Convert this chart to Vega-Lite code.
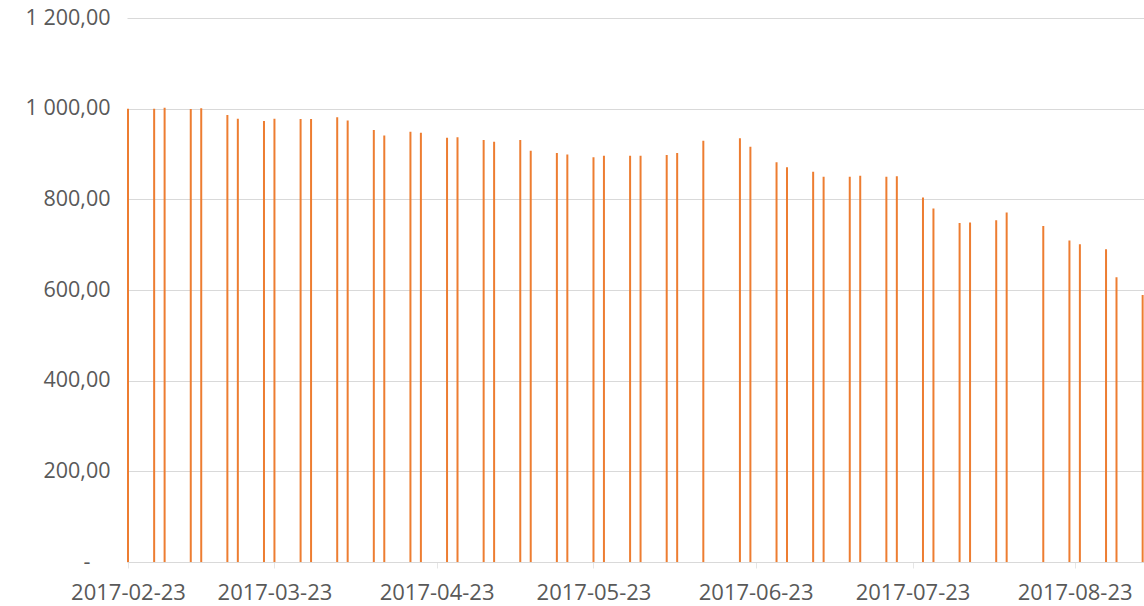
{
  "$schema": "https://vega.github.io/schema/vega-lite/v6.json",
  "autosize": "none",
  "width": 1017,
  "height": 544,
  "padding": {"left": 127, "top": 18, "right": 0, "bottom": 44},
  "background": "white",
  "config": {"view": {"stroke": null}},
  "data": {
    "values": [
      {"date": "2017-02-23", "value": 1000},
      {"date": "2017-02-28", "value": 1000},
      {"date": "2017-03-02", "value": 1002},
      {"date": "2017-03-07", "value": 999},
      {"date": "2017-03-09", "value": 1001},
      {"date": "2017-03-14", "value": 986},
      {"date": "2017-03-16", "value": 978},
      {"date": "2017-03-21", "value": 973},
      {"date": "2017-03-23", "value": 978},
      {"date": "2017-03-28", "value": 977},
      {"date": "2017-03-30", "value": 977},
      {"date": "2017-04-04", "value": 981},
      {"date": "2017-04-06", "value": 974},
      {"date": "2017-04-11", "value": 953},
      {"date": "2017-04-13", "value": 941},
      {"date": "2017-04-18", "value": 949},
      {"date": "2017-04-20", "value": 947},
      {"date": "2017-04-25", "value": 936},
      {"date": "2017-04-27", "value": 937},
      {"date": "2017-05-02", "value": 931},
      {"date": "2017-05-04", "value": 927},
      {"date": "2017-05-09", "value": 931},
      {"date": "2017-05-11", "value": 907},
      {"date": "2017-05-16", "value": 902},
      {"date": "2017-05-18", "value": 899},
      {"date": "2017-05-23", "value": 893},
      {"date": "2017-05-25", "value": 896},
      {"date": "2017-05-30", "value": 896},
      {"date": "2017-06-01", "value": 896},
      {"date": "2017-06-06", "value": 898},
      {"date": "2017-06-08", "value": 902},
      {"date": "2017-06-13", "value": 929},
      {"date": "2017-06-20", "value": 935},
      {"date": "2017-06-22", "value": 916},
      {"date": "2017-06-27", "value": 882},
      {"date": "2017-06-29", "value": 871},
      {"date": "2017-07-04", "value": 861},
      {"date": "2017-07-06", "value": 850},
      {"date": "2017-07-11", "value": 850},
      {"date": "2017-07-13", "value": 852},
      {"date": "2017-07-18", "value": 850},
      {"date": "2017-07-20", "value": 851},
      {"date": "2017-07-25", "value": 804},
      {"date": "2017-07-27", "value": 780},
      {"date": "2017-08-01", "value": 748},
      {"date": "2017-08-03", "value": 749},
      {"date": "2017-08-08", "value": 754},
      {"date": "2017-08-10", "value": 771},
      {"date": "2017-08-17", "value": 741},
      {"date": "2017-08-22", "value": 709},
      {"date": "2017-08-24", "value": 701},
      {"date": "2017-08-29", "value": 690},
      {"date": "2017-08-31", "value": 628},
      {"date": "2017-09-05", "value": 589}
    ]
  },
  "mark": {"type": "bar", "size": 2, "color": "#ED7D31"},
  "encoding": {
    "x": {
      "field": "date",
      "type": "temporal",
      "scale": {
        "type": "utc",
        "padding": 0,
        "domain": [1487791440000, 1504591920000]
      },
      "axis": {
        "title": null,
        "values": [
          {"year": 2017, "month": 2, "date": 23, "utc": true},
          {"year": 2017, "month": 3, "date": 23, "utc": true},
          {"year": 2017, "month": 4, "date": 23, "utc": true},
          {"year": 2017, "month": 5, "date": 23, "utc": true},
          {"year": 2017, "month": 6, "date": 23, "utc": true},
          {"year": 2017, "month": 7, "date": 23, "utc": true},
          {"year": 2017, "month": 8, "date": 23, "utc": true}
        ],
        "labelExpr": "utcFormat(datum.value, '%Y-%m-%d')",
        "grid": false,
        "domainColor": "#d9d9d9",
        "tickColor": "#e6e6e6",
        "tickSize": 6,
        "labelPadding": 14,
        "labelFont": "Open Sans",
        "labelFontSize": 22,
        "labelColor": "#595959",
        "labelFlush": false,
        "labelOverlap": false
      }
    },
    "y": {
      "field": "value",
      "type": "quantitative",
      "scale": {"domain": [0, 1200], "nice": false},
      "axis": {
        "title": null,
        "values": [0, 200, 400, 600, 800, 1000, 1200],
        "labelExpr": "datum.value == 0 ? '-' : replace(replace(format(datum.value, ',.2f'), ',', ' '), '.', ',')",
        "grid": true,
        "gridColor": "#d9d9d9",
        "gridWidth": 1,
        "domain": false,
        "ticks": false,
        "labelPadding": {"condition": {"test": "datum.value == 0", "value": 37}, "value": 17},
        "labelFont": "Open Sans",
        "labelFontSize": 21.5,
        "labelColor": "#595959"
      }
    }
  }
}
